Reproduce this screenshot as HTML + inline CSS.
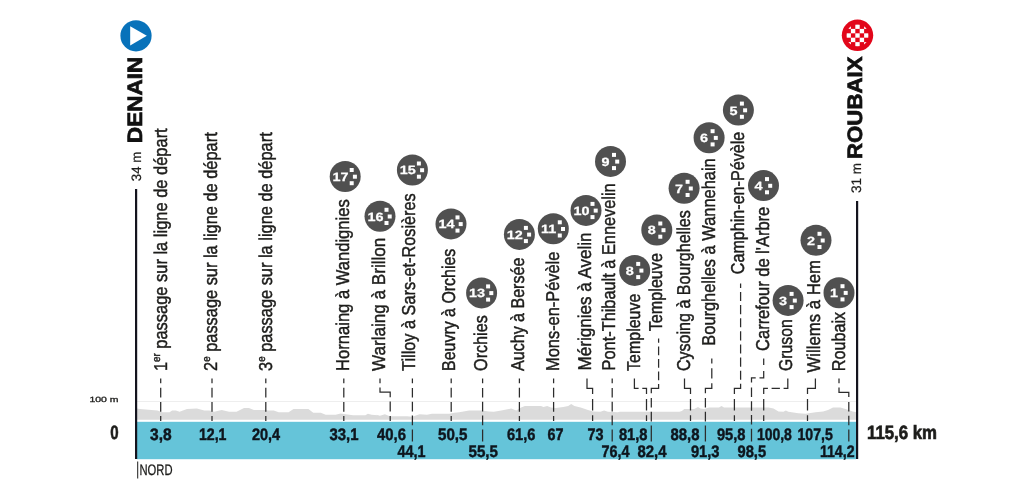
<!DOCTYPE html>
<html lang="fr"><head><meta charset="utf-8"><title>Denain - Roubaix</title>
<style>html,body{margin:0;padding:0;background:#fff}svg{display:block;will-change:transform;-webkit-font-smoothing:antialiased;text-rendering:geometricPrecision}</style></head>
<body>
<svg width="1009" height="500" viewBox="0 0 1009 500" font-family='"Liberation Sans", sans-serif'>
<rect width="1009" height="500" fill="#fff"/>
<rect x="137" y="401" width="719" height="1" fill="#eeeeee"/>
<polygon points="137,419.7 136.9,408.6 139.9,409.1 157.3,410.4 162.2,412.3 169.6,412.3 172.1,410.4 175.8,410.4 179.6,411.8 187.0,408.9 196.9,408.6 204.3,410.4 209.3,410.4 214.2,411.8 221.7,409.9 229.1,411.8 236.5,411.8 244.0,408.1 248.9,408.1 253.9,409.9 263.8,409.9 268.8,410.4 273.7,410.4 278.7,412.3 288.6,412.3 293.5,409.1 308.4,409.1 313.3,412.8 320.8,412.8 325.7,414.8 335.6,414.8 340.6,413.6 345.6,414.3 353.0,415.3 365.4,415.3 367.9,413.8 371.6,414.8 377.8,415.3 375.0,414.3 379.9,415.8 384.9,414.3 389.8,416.3 407.2,416.3 412.1,416.8 419.6,414.3 427.0,414.8 431.9,413.8 449.3,413.8 454.2,412.8 459.2,412.3 469.1,410.4 481.5,410.4 488.9,411.4 493.9,411.8 501.3,410.4 511.2,408.6 516.2,410.4 521.1,407.4 524.9,405.9 541.0,405.9 543.4,406.9 547.2,405.9 550.9,407.4 555.8,407.9 563.3,406.9 568.2,406.1 571.2,403.9 574.4,405.9 580.6,407.4 588.0,409.9 593.0,411.4 600.4,411.8 604.1,410.4 607.9,411.8 617.8,412.3 619.9,411.8 679.4,411.8 681.9,410.9 684.3,408.9 694.2,408.9 698.0,406.9 700.4,408.4 704.2,408.9 709.1,407.4 719.0,407.4 721.5,405.9 724.0,407.4 733.9,407.4 768.6,407.4 773.5,408.4 778.5,411.4 783.4,411.8 785.9,410.4 788.4,411.8 798.3,413.3 805.7,413.8 815.6,412.3 823.1,411.4 828.0,409.9 833.0,407.4 840.4,407.4 845.4,408.9 852.8,411.4 856.5,412.3 856,419.7" fill="#dbdbdb"/>
<rect x="137" y="421.8" width="719" height="37.4" fill="#65c4d9"/>
<path d="M160.7 378.4L160.7 383.3M160.7 387.7L160.7 397.5M160.7 401.9L160.7 411.7M160.7 416.1L160.7 421.0" fill="none" stroke="#2c2c2c" stroke-width="1.25"/>
<path d="M212.0 378.4L212.0 383.3M212.0 387.7L212.0 397.5M212.0 401.9L212.0 411.7M212.0 416.1L212.0 421.0" fill="none" stroke="#2c2c2c" stroke-width="1.25"/>
<path d="M265.8 378.4L265.8 383.3M265.8 387.7L265.8 397.5M265.8 401.9L265.8 411.7M265.8 416.1L265.8 421.0" fill="none" stroke="#2c2c2c" stroke-width="1.25"/>
<path d="M343.8 378.4L343.8 383.3M343.8 387.7L343.8 397.5M343.8 401.9L343.8 411.7M343.8 416.1L343.8 421.0" fill="none" stroke="#2c2c2c" stroke-width="1.25"/>
<path d="M380.0 378.4L380.0 383.2M380.0 387.4L380.0 392.2L390.2 392.2L390.2 397.2M390.2 401.6L390.2 411.6M390.2 416.0L390.2 421.0" fill="none" stroke="#2c2c2c" stroke-width="1.25"/>
<path d="M412.4 378.4L412.4 383.2M412.4 388.0L412.4 397.6M412.4 401.8L412.4 411.4M412.4 415.6L412.4 425.2M412.4 429.4L412.4 441.6" fill="none" stroke="#2c2c2c" stroke-width="1.25"/>
<path d="M451.2 378.4L451.2 383.3M451.2 387.7L451.2 397.5M451.2 401.9L451.2 411.7M451.2 416.1L451.2 421.0" fill="none" stroke="#2c2c2c" stroke-width="1.25"/>
<path d="M482.6 378.4L482.6 383.2M482.6 388.0L482.6 397.6M482.6 401.8L482.6 411.4M482.6 415.6L482.6 425.2M482.6 429.4L482.6 441.6" fill="none" stroke="#2c2c2c" stroke-width="1.25"/>
<path d="M519.4 378.4L519.4 383.3M519.4 387.7L519.4 397.5M519.4 401.9L519.4 411.7M519.4 416.1L519.4 421.0" fill="none" stroke="#2c2c2c" stroke-width="1.25"/>
<path d="M553.6 378.4L553.6 383.3M553.6 387.7L553.6 397.5M553.6 401.9L553.6 411.7M553.6 416.1L553.6 421.0" fill="none" stroke="#2c2c2c" stroke-width="1.25"/>
<path d="M587.0 378.4L587.0 388.4L592.6 388.4L592.6 394.1M592.6 399.0L592.6 410.4M592.6 415.3L592.6 421.0" fill="none" stroke="#2c2c2c" stroke-width="1.25"/>
<path d="M612.2 378.4L612.2 383.2M612.2 388.0L612.2 397.6M612.2 401.8L612.2 411.4M612.2 415.6L612.2 425.2M612.2 429.4L612.2 441.6" fill="none" stroke="#2c2c2c" stroke-width="1.25"/>
<path d="M634.4 378.4L634.4 388.4L638.6 388.4M642.3 388.4L646.5 388.4L646.5 394.1M646.5 399.0L646.5 410.4M646.5 415.3L646.5 421.0" fill="none" stroke="#2c2c2c" stroke-width="1.25"/>
<path d="M658.6 338.5L658.6 342.8M658.6 346.6L658.6 355.3M658.6 359.1L658.6 367.8M658.6 371.6L658.6 380.3M658.6 384.1L658.6 388.4L651.3 388.4L651.3 393.2M651.3 398.0L651.3 407.6M651.3 411.8L651.3 421.4M651.3 425.6L651.3 441.6" fill="none" stroke="#2c2c2c" stroke-width="1.25"/>
<path d="M684.5 378.4L684.5 388.4L690.5 388.4L690.5 394.1M690.5 399.0L690.5 410.4M690.5 415.3L690.5 421.0" fill="none" stroke="#2c2c2c" stroke-width="1.25"/>
<path d="M711.8 358.4L711.8 363.6M711.8 368.2L711.8 378.6M711.8 383.2L711.8 388.4L705.4 388.4L705.4 393.2M705.4 398.0L705.4 407.6M705.4 411.8L705.4 421.4M705.4 425.6L705.4 441.6" fill="none" stroke="#2c2c2c" stroke-width="1.25"/>
<path d="M740.6 283.4L740.6 288.0M740.6 292.0L740.6 301.1M740.6 305.1L740.6 314.2M740.6 318.2L740.6 327.3M740.6 331.3L740.6 340.5M740.6 344.5L740.6 353.6M740.6 357.6L740.6 366.7M740.6 370.7L740.6 379.8M740.6 383.8L740.6 388.4L734.4 388.4L734.4 394.1M734.4 399.0L734.4 410.4M734.4 415.3L734.4 421.0" fill="none" stroke="#2c2c2c" stroke-width="1.25"/>
<path d="M763.7 358.4L763.7 365.1M763.7 371.1L763.7 377.8L759.5 377.8M755.7 377.8L751.5 377.8L751.5 382.6M751.5 387.4L751.5 397.0M751.5 401.2L751.5 410.8M751.5 415.0L751.5 424.6M751.5 428.8L751.5 441.6" fill="none" stroke="#2c2c2c" stroke-width="1.25"/>
<path d="M787.8 378.4L787.8 388.4L783.6 388.4M779.9 388.4L771.6 388.4M767.9 388.4L763.7 388.4L763.7 394.1M763.7 399.0L763.7 410.4M763.7 415.3L763.7 421.0" fill="none" stroke="#2c2c2c" stroke-width="1.25"/>
<path d="M815.4 378.4L815.4 388.4L807.5 388.4L807.5 394.1M807.5 399.0L807.5 410.4M807.5 415.3L807.5 421.0" fill="none" stroke="#2c2c2c" stroke-width="1.25"/>
<path d="M839.0 378.4L839.0 383.2M839.0 387.5L839.0 392.3L848.8 392.3L848.8 397.1M848.8 401.9L848.8 411.5M848.8 415.7L848.8 425.3M848.8 429.5L848.8 441.6" fill="none" stroke="#2c2c2c" stroke-width="1.25"/>
<rect x="135" y="189" width="2.2" height="270" fill="#14141e"/>
<rect x="856" y="201" width="2.2" height="258" fill="#14141e"/>
<rect x="137.2" y="461.5" width="1" height="17" fill="#1d1d1b"/>
<text id="L0" transform="translate(167.2 371.1) rotate(-90)" font-size="18.6" fill="#1d1d1b" stroke="#1d1d1b" stroke-width="0.45" textLength="242.8" lengthAdjust="spacingAndGlyphs">1<tspan font-size="11" dy="-7">er</tspan><tspan dy="7"> passage sur la ligne de départ</tspan></text>
<text id="L1" transform="translate(217.2 370.9) rotate(-90)" font-size="18.6" fill="#1d1d1b" stroke="#1d1d1b" stroke-width="0.45" textLength="238.6" lengthAdjust="spacingAndGlyphs">2<tspan font-size="11" dy="-7">e</tspan><tspan dy="7"> passage sur la ligne de départ</tspan></text>
<text id="L2" transform="translate(272.0 370.9) rotate(-90)" font-size="18.6" fill="#1d1d1b" stroke="#1d1d1b" stroke-width="0.45" textLength="238.6" lengthAdjust="spacingAndGlyphs">3<tspan font-size="11" dy="-7">e</tspan><tspan dy="7"> passage sur la ligne de départ</tspan></text>
<text id="L3" transform="translate(349.0 370.9) rotate(-90)" font-size="18.6" fill="#1d1d1b" stroke="#1d1d1b" stroke-width="0.45" textLength="171.6" lengthAdjust="spacingAndGlyphs">Hornaing à Wandignies</text>
<text id="L4" transform="translate(385.0 370.9) rotate(-90)" font-size="18.6" fill="#1d1d1b" stroke="#1d1d1b" stroke-width="0.45" textLength="133.2" lengthAdjust="spacingAndGlyphs">Warlaing à Brillon</text>
<text id="L5" transform="translate(415.1 370.9) rotate(-90)" font-size="18.6" fill="#1d1d1b" stroke="#1d1d1b" stroke-width="0.45" textLength="177.6" lengthAdjust="spacingAndGlyphs">Tilloy à Sars-et-Rosières</text>
<text id="L6" transform="translate(455.3 370.9) rotate(-90)" font-size="18.6" fill="#1d1d1b" stroke="#1d1d1b" stroke-width="0.45" textLength="122.2" lengthAdjust="spacingAndGlyphs">Beuvry à Orchies</text>
<text id="L7" transform="translate(487.3 370.9) rotate(-90)" font-size="18.6" fill="#1d1d1b" stroke="#1d1d1b" stroke-width="0.45" textLength="55.6" lengthAdjust="spacingAndGlyphs">Orchies</text>
<text id="L8" transform="translate(523.8 370.9) rotate(-90)" font-size="18.6" fill="#1d1d1b" stroke="#1d1d1b" stroke-width="0.45" textLength="113.2" lengthAdjust="spacingAndGlyphs">Auchy à Bersée</text>
<text id="L9" transform="translate(559.0 370.9) rotate(-90)" font-size="18.6" fill="#1d1d1b" stroke="#1d1d1b" stroke-width="0.45" textLength="119.2" lengthAdjust="spacingAndGlyphs">Mons-en-Pévèle</text>
<text id="L10" transform="translate(591.4 370.4) rotate(-90)" font-size="18.6" fill="#1d1d1b" stroke="#1d1d1b" stroke-width="0.45" textLength="137.9" lengthAdjust="spacingAndGlyphs">Mérignies à Avelin</text>
<text id="L11" transform="translate(614.8 370.4) rotate(-90)" font-size="18.6" fill="#1d1d1b" stroke="#1d1d1b" stroke-width="0.45" textLength="187.1" lengthAdjust="spacingAndGlyphs">Pont-Thibault à Ennevelin</text>
<text id="L12" transform="translate(640.0 370.9) rotate(-90)" font-size="18.6" fill="#1d1d1b" stroke="#1d1d1b" stroke-width="0.45" textLength="77.2" lengthAdjust="spacingAndGlyphs">Templeuve</text>
<text id="L13" transform="translate(662.3 331.2) rotate(-90)" font-size="18.6" fill="#1d1d1b" stroke="#1d1d1b" stroke-width="0.45" textLength="78.1" lengthAdjust="spacingAndGlyphs">Templeuve</text>
<text id="L14" transform="translate(690.0 371.1) rotate(-90)" font-size="18.6" fill="#1d1d1b" stroke="#1d1d1b" stroke-width="0.45" textLength="160.8" lengthAdjust="spacingAndGlyphs">Cysoing à Bourghelles</text>
<text id="L15" transform="translate(714.6 345.7) rotate(-90)" font-size="18.6" fill="#1d1d1b" stroke="#1d1d1b" stroke-width="0.45" textLength="187.4" lengthAdjust="spacingAndGlyphs">Bourghelles à Wannehain</text>
<text id="L16" transform="translate(744.4 274.2) rotate(-90)" font-size="18.6" fill="#1d1d1b" stroke="#1d1d1b" stroke-width="0.45" textLength="142.4" lengthAdjust="spacingAndGlyphs">Camphin-en-Pévèle</text>
<text id="L17" transform="translate(768.6 350.9) rotate(-90)" font-size="18.6" fill="#1d1d1b" stroke="#1d1d1b" stroke-width="0.45" textLength="144.1" lengthAdjust="spacingAndGlyphs">Carrefour de l'Arbre</text>
<text id="L18" transform="translate(791.6 370.9) rotate(-90)" font-size="18.6" fill="#1d1d1b" stroke="#1d1d1b" stroke-width="0.45" textLength="51.6" lengthAdjust="spacingAndGlyphs">Gruson</text>
<text id="L19" transform="translate(819.6 372.4) rotate(-90)" font-size="18.6" fill="#1d1d1b" stroke="#1d1d1b" stroke-width="0.45" textLength="112.3" lengthAdjust="spacingAndGlyphs">Willems à Hem</text>
<text id="L20" transform="translate(845.4 371.3) rotate(-90)" font-size="18.6" fill="#1d1d1b" stroke="#1d1d1b" stroke-width="0.45" textLength="59.4" lengthAdjust="spacingAndGlyphs">Roubaix</text>
<circle cx="345.2" cy="176.5" r="15.5" fill="#505050"/>
<rect x="349.7" y="168.0" width="4" height="4" fill="#fff"/>
<rect x="352.9" y="174.7" width="4" height="4" fill="#fff"/>
<rect x="349.7" y="181.2" width="4" height="4" fill="#fff"/>
<text transform="translate(340.6 180.8) scale(1.2 1)" font-size="12" font-weight="bold" fill="#fff" stroke="#fff" stroke-width="0.25" text-anchor="middle">17</text>
<circle cx="380" cy="216.3" r="15.5" fill="#505050"/>
<rect x="384.5" y="207.8" width="4" height="4" fill="#fff"/>
<rect x="387.7" y="214.5" width="4" height="4" fill="#fff"/>
<rect x="384.5" y="221.0" width="4" height="4" fill="#fff"/>
<text transform="translate(375.4 220.6) scale(1.2 1)" font-size="12" font-weight="bold" fill="#fff" stroke="#fff" stroke-width="0.25" text-anchor="middle">16</text>
<circle cx="412.4" cy="170" r="15.5" fill="#505050"/>
<rect x="416.9" y="161.5" width="4" height="4" fill="#fff"/>
<rect x="420.1" y="168.2" width="4" height="4" fill="#fff"/>
<rect x="416.9" y="174.7" width="4" height="4" fill="#fff"/>
<text transform="translate(407.8 174.3) scale(1.2 1)" font-size="12" font-weight="bold" fill="#fff" stroke="#fff" stroke-width="0.25" text-anchor="middle">15</text>
<circle cx="451" cy="223.9" r="15.5" fill="#505050"/>
<rect x="455.5" y="215.4" width="4" height="4" fill="#fff"/>
<rect x="458.7" y="222.1" width="4" height="4" fill="#fff"/>
<rect x="455.5" y="228.6" width="4" height="4" fill="#fff"/>
<text transform="translate(446.4 228.2) scale(1.2 1)" font-size="12" font-weight="bold" fill="#fff" stroke="#fff" stroke-width="0.25" text-anchor="middle">14</text>
<circle cx="481.6" cy="292.9" r="15.5" fill="#505050"/>
<rect x="486.1" y="284.4" width="4" height="4" fill="#fff"/>
<rect x="489.3" y="291.1" width="4" height="4" fill="#fff"/>
<rect x="486.1" y="297.6" width="4" height="4" fill="#fff"/>
<text transform="translate(477.0 297.2) scale(1.2 1)" font-size="12" font-weight="bold" fill="#fff" stroke="#fff" stroke-width="0.25" text-anchor="middle">13</text>
<circle cx="519.4" cy="234.4" r="15.5" fill="#505050"/>
<rect x="523.9" y="225.9" width="4" height="4" fill="#fff"/>
<rect x="527.1" y="232.6" width="4" height="4" fill="#fff"/>
<rect x="523.9" y="239.1" width="4" height="4" fill="#fff"/>
<text transform="translate(514.8 238.7) scale(1.2 1)" font-size="12" font-weight="bold" fill="#fff" stroke="#fff" stroke-width="0.25" text-anchor="middle">12</text>
<circle cx="553.3" cy="228.8" r="15.5" fill="#505050"/>
<rect x="557.8" y="220.3" width="4" height="4" fill="#fff"/>
<rect x="561.0" y="227.0" width="4" height="4" fill="#fff"/>
<rect x="557.8" y="233.5" width="4" height="4" fill="#fff"/>
<text transform="translate(548.7 233.1) scale(1.2 1)" font-size="12" font-weight="bold" fill="#fff" stroke="#fff" stroke-width="0.25" text-anchor="middle">11</text>
<circle cx="586" cy="210.4" r="15.5" fill="#505050"/>
<rect x="590.5" y="201.9" width="4" height="4" fill="#fff"/>
<rect x="593.7" y="208.6" width="4" height="4" fill="#fff"/>
<rect x="590.5" y="215.1" width="4" height="4" fill="#fff"/>
<text transform="translate(581.4 214.7) scale(1.2 1)" font-size="12" font-weight="bold" fill="#fff" stroke="#fff" stroke-width="0.25" text-anchor="middle">10</text>
<circle cx="610.5" cy="161.4" r="15.5" fill="#505050"/>
<rect x="612.0" y="152.9" width="4" height="4" fill="#fff"/>
<rect x="615.2" y="159.6" width="4" height="4" fill="#fff"/>
<rect x="612.0" y="166.1" width="4" height="4" fill="#fff"/>
<text transform="translate(605.5 165.8) scale(1.2 1)" font-size="12" font-weight="bold" fill="#fff" stroke="#fff" stroke-width="0.25" text-anchor="middle">9</text>
<circle cx="656.8" cy="230" r="15.5" fill="#505050"/>
<rect x="658.3" y="221.5" width="4" height="4" fill="#fff"/>
<rect x="661.5" y="228.2" width="4" height="4" fill="#fff"/>
<rect x="658.3" y="234.7" width="4" height="4" fill="#fff"/>
<text transform="translate(651.8 234.4) scale(1.2 1)" font-size="12" font-weight="bold" fill="#fff" stroke="#fff" stroke-width="0.25" text-anchor="middle">8</text>
<circle cx="634.7" cy="270.4" r="15.5" fill="#505050"/>
<rect x="636.2" y="261.9" width="4" height="4" fill="#fff"/>
<rect x="639.4" y="268.6" width="4" height="4" fill="#fff"/>
<rect x="636.2" y="275.1" width="4" height="4" fill="#fff"/>
<text transform="translate(629.7 274.8) scale(1.2 1)" font-size="12" font-weight="bold" fill="#fff" stroke="#fff" stroke-width="0.25" text-anchor="middle">8</text>
<circle cx="684.1" cy="188.3" r="15.5" fill="#505050"/>
<rect x="685.6" y="179.8" width="4" height="4" fill="#fff"/>
<rect x="688.8" y="186.5" width="4" height="4" fill="#fff"/>
<rect x="685.6" y="193.0" width="4" height="4" fill="#fff"/>
<text transform="translate(679.1 192.7) scale(1.2 1)" font-size="12" font-weight="bold" fill="#fff" stroke="#fff" stroke-width="0.25" text-anchor="middle">7</text>
<circle cx="709.1" cy="137.7" r="15.5" fill="#505050"/>
<rect x="710.6" y="129.2" width="4" height="4" fill="#fff"/>
<rect x="713.8" y="135.9" width="4" height="4" fill="#fff"/>
<rect x="710.6" y="142.4" width="4" height="4" fill="#fff"/>
<text transform="translate(704.1 142.1) scale(1.2 1)" font-size="12" font-weight="bold" fill="#fff" stroke="#fff" stroke-width="0.25" text-anchor="middle">6</text>
<circle cx="738.4" cy="110.1" r="15.5" fill="#505050"/>
<rect x="739.9" y="101.6" width="4" height="4" fill="#fff"/>
<rect x="743.1" y="108.3" width="4" height="4" fill="#fff"/>
<rect x="739.9" y="114.8" width="4" height="4" fill="#fff"/>
<text transform="translate(733.4 114.5) scale(1.2 1)" font-size="12" font-weight="bold" fill="#fff" stroke="#fff" stroke-width="0.25" text-anchor="middle">5</text>
<circle cx="763.5" cy="185.6" r="15.5" fill="#505050"/>
<rect x="765.0" y="177.1" width="4" height="4" fill="#fff"/>
<rect x="768.2" y="183.8" width="4" height="4" fill="#fff"/>
<rect x="765.0" y="190.3" width="4" height="4" fill="#fff"/>
<text transform="translate(758.5 190.0) scale(1.2 1)" font-size="12" font-weight="bold" fill="#fff" stroke="#fff" stroke-width="0.25" text-anchor="middle">4</text>
<circle cx="788.1" cy="300.4" r="15.5" fill="#505050"/>
<rect x="789.6" y="291.9" width="4" height="4" fill="#fff"/>
<rect x="792.8" y="298.6" width="4" height="4" fill="#fff"/>
<rect x="789.6" y="305.1" width="4" height="4" fill="#fff"/>
<text transform="translate(783.1 304.8) scale(1.2 1)" font-size="12" font-weight="bold" fill="#fff" stroke="#fff" stroke-width="0.25" text-anchor="middle">3</text>
<circle cx="816" cy="240.3" r="15.5" fill="#505050"/>
<rect x="817.5" y="231.8" width="4" height="4" fill="#fff"/>
<rect x="820.7" y="238.5" width="4" height="4" fill="#fff"/>
<rect x="817.5" y="245.0" width="4" height="4" fill="#fff"/>
<text transform="translate(811.0 244.7) scale(1.2 1)" font-size="12" font-weight="bold" fill="#fff" stroke="#fff" stroke-width="0.25" text-anchor="middle">2</text>
<circle cx="839" cy="292.7" r="15.5" fill="#505050"/>
<rect x="840.5" y="284.2" width="4" height="4" fill="#fff"/>
<rect x="843.7" y="290.9" width="4" height="4" fill="#fff"/>
<rect x="840.5" y="297.4" width="4" height="4" fill="#fff"/>
<text transform="translate(834.0 297.1) scale(1.2 1)" font-size="12" font-weight="bold" fill="#fff" stroke="#fff" stroke-width="0.25" text-anchor="middle">1</text>
<text id="K0" x="150.1" y="439.7" font-size="16.6" font-weight="bold" fill="#0e151d" stroke="#0e151d" stroke-width="0.45" textLength="21.6" lengthAdjust="spacingAndGlyphs">3,8</text>
<text id="K1" x="198.9" y="439.7" font-size="16.6" font-weight="bold" fill="#0e151d" stroke="#0e151d" stroke-width="0.45" textLength="27.6" lengthAdjust="spacingAndGlyphs">12,1</text>
<text id="K2" x="251.9" y="439.7" font-size="16.6" font-weight="bold" fill="#0e151d" stroke="#0e151d" stroke-width="0.45" textLength="28.2" lengthAdjust="spacingAndGlyphs">20,4</text>
<text id="K3" x="329.5" y="439.7" font-size="16.6" font-weight="bold" fill="#0e151d" stroke="#0e151d" stroke-width="0.45" textLength="29.0" lengthAdjust="spacingAndGlyphs">33,1</text>
<text id="K4" x="377.0" y="439.7" font-size="16.6" font-weight="bold" fill="#0e151d" stroke="#0e151d" stroke-width="0.45" textLength="29.0" lengthAdjust="spacingAndGlyphs">40,6</text>
<text id="K5" x="397.5" y="456.6" font-size="16.6" font-weight="bold" fill="#0e151d" stroke="#0e151d" stroke-width="0.45" textLength="28.0" lengthAdjust="spacingAndGlyphs">44,1</text>
<text id="K6" x="438.0" y="439.7" font-size="16.6" font-weight="bold" fill="#0e151d" stroke="#0e151d" stroke-width="0.45" textLength="29.5" lengthAdjust="spacingAndGlyphs">50,5</text>
<text id="K7" x="468.5" y="456.6" font-size="16.6" font-weight="bold" fill="#0e151d" stroke="#0e151d" stroke-width="0.45" textLength="29.5" lengthAdjust="spacingAndGlyphs">55,5</text>
<text id="K8" x="506.9" y="439.7" font-size="16.6" font-weight="bold" fill="#0e151d" stroke="#0e151d" stroke-width="0.45" textLength="28.6" lengthAdjust="spacingAndGlyphs">61,6</text>
<text id="K9" x="547.5" y="439.7" font-size="16.6" font-weight="bold" fill="#0e151d" stroke="#0e151d" stroke-width="0.45" textLength="16.0" lengthAdjust="spacingAndGlyphs">67</text>
<text id="K10" x="587.5" y="439.7" font-size="16.6" font-weight="bold" fill="#0e151d" stroke="#0e151d" stroke-width="0.45" textLength="16.0" lengthAdjust="spacingAndGlyphs">73</text>
<text id="K11" x="601.5" y="456.6" font-size="16.6" font-weight="bold" fill="#0e151d" stroke="#0e151d" stroke-width="0.45" textLength="28.0" lengthAdjust="spacingAndGlyphs">76,4</text>
<text id="K12" x="618.9" y="439.7" font-size="16.6" font-weight="bold" fill="#0e151d" stroke="#0e151d" stroke-width="0.45" textLength="28.6" lengthAdjust="spacingAndGlyphs">81,8</text>
<text id="K13" x="637.5" y="456.6" font-size="16.6" font-weight="bold" fill="#0e151d" stroke="#0e151d" stroke-width="0.45" textLength="29.0" lengthAdjust="spacingAndGlyphs">82,4</text>
<text id="K14" x="670.5" y="439.7" font-size="16.6" font-weight="bold" fill="#0e151d" stroke="#0e151d" stroke-width="0.45" textLength="29.0" lengthAdjust="spacingAndGlyphs">88,8</text>
<text id="K15" x="690.9" y="456.6" font-size="16.6" font-weight="bold" fill="#0e151d" stroke="#0e151d" stroke-width="0.45" textLength="28.6" lengthAdjust="spacingAndGlyphs">91,3</text>
<text id="K16" x="716.9" y="439.7" font-size="16.6" font-weight="bold" fill="#0e151d" stroke="#0e151d" stroke-width="0.45" textLength="28.6" lengthAdjust="spacingAndGlyphs">95,8</text>
<text id="K17" x="737.5" y="456.6" font-size="16.6" font-weight="bold" fill="#0e151d" stroke="#0e151d" stroke-width="0.45" textLength="28.6" lengthAdjust="spacingAndGlyphs">98,5</text>
<text id="K18" x="756.9" y="439.7" font-size="16.6" font-weight="bold" fill="#0e151d" stroke="#0e151d" stroke-width="0.45" textLength="35.0" lengthAdjust="spacingAndGlyphs">100,8</text>
<text id="K19" x="797.5" y="439.7" font-size="16.6" font-weight="bold" fill="#0e151d" stroke="#0e151d" stroke-width="0.45" textLength="35.4" lengthAdjust="spacingAndGlyphs">107,5</text>
<text id="K20" x="819.9" y="456.6" font-size="16.6" font-weight="bold" fill="#0e151d" stroke="#0e151d" stroke-width="0.45" textLength="34.6" lengthAdjust="spacingAndGlyphs">114,2</text>
<text x="867" y="438.9" font-size="19.2" font-weight="bold" fill="#1d1d1b" stroke="#1d1d1b" stroke-width="0.7" textLength="70" lengthAdjust="spacingAndGlyphs">115,6 km</text>
<text x="110.2" y="439.2" font-size="19.4" font-weight="bold" fill="#1d1d1b" stroke="#1d1d1b" stroke-width="0.6" textLength="8.4" lengthAdjust="spacingAndGlyphs">0</text>
<text x="89.5" y="402.3" font-size="7.6" fill="#1d1d1b" stroke="#1d1d1b" stroke-width="0.3" textLength="29" lengthAdjust="spacingAndGlyphs">100 m</text>
<text x="139.5" y="474.5" font-size="15.2" fill="#1d1d1b" stroke="#1d1d1b" stroke-width="0.3" textLength="33" lengthAdjust="spacingAndGlyphs">NORD</text>
<text transform="translate(141.8 142.9) rotate(-90)" font-size="20.8" font-weight="bold" fill="#111" stroke="#111" stroke-width="0.7" textLength="86" lengthAdjust="spacingAndGlyphs">DENAIN</text>
<text transform="translate(140.6 181.2) rotate(-90)" font-size="13.6" fill="#1d1d1b" stroke="#1d1d1b" stroke-width="0.2" textLength="29.6" lengthAdjust="spacingAndGlyphs">34 m</text>
<text transform="translate(862.0 159.0) rotate(-90)" font-size="20.8" font-weight="bold" fill="#111" stroke="#111" stroke-width="0.7" textLength="102.6" lengthAdjust="spacingAndGlyphs">ROUBAIX</text>
<text transform="translate(861.4 193.0) rotate(-90)" font-size="13.8" fill="#1d1d1b" stroke="#1d1d1b" stroke-width="0.2" textLength="30" lengthAdjust="spacingAndGlyphs">31 m</text>
<circle cx="136" cy="35.8" r="15.6" fill="#0872ba"/>
<polygon points="130.2,26.2 130.2,45.4 146.8,35.7" fill="#fff"/>
<circle cx="857.5" cy="35.3" r="15.7" fill="#e2061a"/>
<clipPath id="fc"><circle cx="857.5" cy="35.4" r="11.2"/></clipPath>
<g clip-path="url(#fc)">
<rect x="846.50" y="24.50" width="4.4" height="4.4" fill="#fff"/>
<rect x="846.50" y="33.30" width="4.4" height="4.4" fill="#fff"/>
<rect x="846.50" y="42.10" width="4.4" height="4.4" fill="#fff"/>
<rect x="850.90" y="28.90" width="4.4" height="4.4" fill="#fff"/>
<rect x="850.90" y="37.70" width="4.4" height="4.4" fill="#fff"/>
<rect x="855.30" y="24.50" width="4.4" height="4.4" fill="#fff"/>
<rect x="855.30" y="33.30" width="4.4" height="4.4" fill="#fff"/>
<rect x="855.30" y="42.10" width="4.4" height="4.4" fill="#fff"/>
<rect x="859.70" y="28.90" width="4.4" height="4.4" fill="#fff"/>
<rect x="859.70" y="37.70" width="4.4" height="4.4" fill="#fff"/>
<rect x="864.10" y="24.50" width="4.4" height="4.4" fill="#fff"/>
<rect x="864.10" y="33.30" width="4.4" height="4.4" fill="#fff"/>
<rect x="864.10" y="42.10" width="4.4" height="4.4" fill="#fff"/>
</g>
</svg>
</body></html>
